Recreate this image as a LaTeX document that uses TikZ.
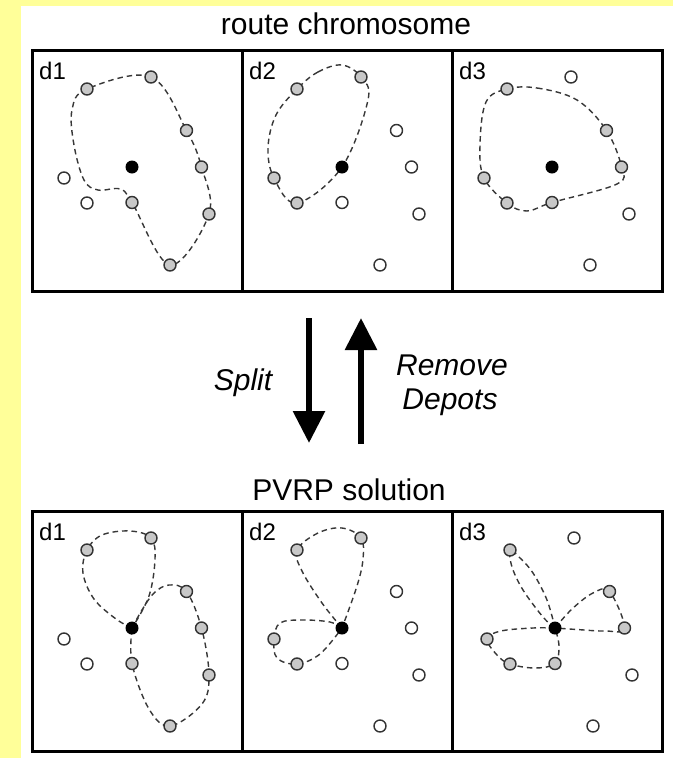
\documentclass[tikz,border=0pt]{standalone}
\usepackage{fontspec}
\setmainfont{Liberation Sans}
\usetikzlibrary{arrows.meta}
\definecolor{bgyellow}{RGB}{255,255,153}
\definecolor{custgray}{RGB}{200,200,200}
\definecolor{routegray}{RGB}{55,55,55}
\tikzset{
  cust/.style={circle, draw=black!80, line width=1.4pt, minimum size=12pt, inner sep=0pt},
  served/.style={cust, fill=custgray},
  unserved/.style={cust, fill=white},
  depotdot/.style={circle, fill=black, minimum size=13pt, inner sep=0pt},
  route/.style={dash pattern=on 5.5pt off 4pt, line width=1.4pt, draw=routegray},
  frame/.style={line width=3pt, draw=black},
  titletext/.style={font=\fontsize{30}{36}\selectfont, anchor=base},
  italtext/.style={font=\fontsize{30}{36}\selectfont\itshape, anchor=base},
  dlabel/.style={font=\fontsize{24}{28}\selectfont, anchor=base west, inner sep=0pt},
  bigarrow/.style={line width=6pt, -{Triangle[length=32pt,width=31pt]}}
}
\newcommand\defpts[1]{%
  \coordinate (#1A) at (55,39);
  \coordinate (#1B) at (119,27);
  \coordinate (#1C) at (154.5,80.5);
  \coordinate (#1D) at (169.5,117);
  \coordinate (#1E) at (177,164);
  \coordinate (#1F) at (138,215);
  \coordinate (#1G) at (100,152.5);
  \coordinate (#1H) at (55,153);
  \coordinate (#1I) at (32,128);
  \coordinate (#1dep) at (100,117);
}
\newcommand\drawpts[3]{%
  \foreach \p in {#2} {\node[served] (#1\p n) at (#1\p) {};}
  \foreach \p in {#3} {\node[unserved] (#1\p n) at (#1\p) {};}
  \node[depotdot] (#1depn) at (#1dep) {};
}
\begin{document}
\begin{tikzpicture}[x=1pt,y=-1pt]
  \useasboundingbox (0,0) rectangle (673,758);
  \fill[bgyellow] (0,0) rectangle (673,758);
  \fill[white] (21,6) rectangle (673,758);

  % titles
  \node[titletext] (title1) at (346,34) {route chromosome};
  \node[titletext] (title2) at (349,500) {PVRP solution};

  % frames
  \foreach \x in {32,242,452} {
    \draw[frame] (\x,50) rectangle ++(210,241);
    \draw[frame] (\x,511) rectangle ++(210,240);
  }

  % ---------- top d1 ----------
  \begin{scope}[shift={(32,50)}]
    \defpts{a}
    \node[dlabel] (la) at (7,29) {d1};
    \draw[route] plot[smooth cycle, tension=0.6] coordinates {(aA) (aB) (aC) (aD) (aE) (aF) (aG) (88,139) (66,140) (52,130) (42,95) (40,60)};
    \drawpts{a}{A,B,C,D,E,F,G}{H,I}
  \end{scope}

  % ---------- top d2 ----------
  \begin{scope}[shift={(242,50)}]
    \defpts{b}
    \node[dlabel] (lb) at (7,29) {d2};
    \draw[route] plot[smooth cycle, tension=0.6] coordinates {(bA) (76,22) (100,15) (bB) (126,50) (bdep) (bH) (bI) (26,98) (34,65)};
    \drawpts{b}{A,B,H,I}{C,D,E,F,G}
  \end{scope}

  % ---------- top d3 ----------
  \begin{scope}[shift={(452,50)}]
    \defpts{c}
    \node[dlabel] (lc) at (7,29) {d3};
    \draw[route] plot[smooth cycle, tension=0.6] coordinates {(cA) (85,38) (125,50) (cC) (cD) (165,134) (cG) (75,161) (cH) (cI) (28,95) (34,52)};
    \drawpts{c}{A,C,D,G,H,I}{B,E,F}
  \end{scope}

  % ---------- bottom d1 ----------
  \begin{scope}[shift={(32,511)}]
    \defpts{d}
    \node[dlabel] (ld) at (7,29) {d1};
    \draw[route] plot[smooth, tension=0.6] coordinates {(ddep) (84,108) (62,88) (51,62) (dA) (70,24) (98,20) (dB) (123,48) (117,85) (ddep)};
    \draw[route] plot[smooth, tension=0.6] coordinates {(ddep) (110,99) (122,82) (137,74) (dC) (dD) (dE) (170,193) (dF) (117,198) (dG) (ddep)};
    \drawpts{d}{A,B,C,D,E,F,G}{H,I}
  \end{scope}

  % ---------- bottom d2 ----------
  \begin{scope}[shift={(242,511)}]
    \defpts{e}
    \node[dlabel] (le) at (7,29) {d2};
    \draw[route] plot[smooth, tension=0.6] coordinates {(edep) (80,92) (60,60) (eA) (76,22) (100,17) (eB) (121,48) (115,75) (edep)};
    \draw[route] plot[smooth, tension=0.6] coordinates {(edep) (88,111) (60,109) (38,112) (eI) (35,147) (eH) (78,143) (edep)};
    \drawpts{e}{A,B,H,I}{C,D,E,F,G}
  \end{scope}

  % ---------- bottom d3 ----------
  \begin{scope}[shift={(452,511)}]
    \node[dlabel] (lf) at (7,29) {d3};
  \end{scope}
  \begin{scope}[shift={(455,511)}]
    \defpts{f}
    \draw[route] plot[smooth, tension=0.6] coordinates {(fdep) (88,106) (68,79) (57,56) (fA) (64,46) (78,62) (92,89) (fdep)};
    \draw[route] plot[smooth, tension=0.6] coordinates {(fdep) (117,98) (138,82) (fC) (fD) (150,120) (122,118.5) (fdep)};
    \draw[route] plot[smooth, tension=0.6] coordinates {(fdep) (78,117) (46,120) (fI) (42,144) (fH) (80,157) (fG) (104,135) (fdep)};
    \drawpts{f}{A,C,D,G,H,I}{B,E,F}
  \end{scope}

  % ---------- arrows ----------
  \coordinate (splitStart) at (309,318);
  \coordinate (splitEnd) at (309,443);
  \coordinate (remStart) at (361,444);
  \coordinate (remEnd) at (361,318);
  \draw[bigarrow] (splitStart) -- (splitEnd);
  \draw[bigarrow] (remStart) -- (remEnd);
  \node[italtext] (split) at (243,390) {Split};
  \node[italtext] (remove) at (452,375) {Remove};
  \node[italtext] (depots) at (450,409) {Depots};
\end{tikzpicture}
\end{document}
